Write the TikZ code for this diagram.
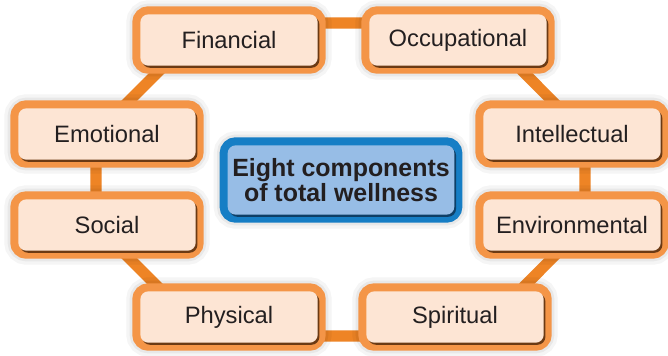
\documentclass[tikz,border=0pt]{standalone}
\usepackage{fontspec}
\setmainfont{Liberation Sans}
\usepackage{tikz}
\usetikzlibrary{calc}
\usetikzlibrary{backgrounds}

\definecolor{frameOrange}{HTML}{F49547}
\definecolor{ringOrange}{HTML}{EE8425}
\definecolor{peach}{HTML}{FDE5D4}
\definecolor{shadowBrown}{HTML}{6B3A14}
\definecolor{frameBlue}{HTML}{167EC5}
\definecolor{paleBlue}{HTML}{97BDE6}
\definecolor{shadowBlue}{HTML}{0E3F66}
\definecolor{ink}{HTML}{231F20}

\tikzset{
  comp/.style = {
    rounded corners = 6pt, inner sep = 0pt,
    minimum width = 133pt, minimum height = 38.5pt,
    font = \fontsize{17.8}{20}\selectfont, text = ink,
    preaction = {draw = black, draw opacity = .04, line width = 21pt},
    preaction = {draw = black, draw opacity = .05, line width = 16pt},
    preaction = {draw = frameOrange, line width = 12pt},
    preaction = {fill = shadowBrown, transform canvas = {shift = {(1.3pt,-1.6pt)}}},
    fill = peach},
  hub/.style = {
    rounded corners = 6pt, inner sep = 0pt,
    minimum width = 170pt, minimum height = 52pt,
    font = \fontsize{18.7}{17.5}\selectfont\bfseries, text = ink, align = center,
    preaction = {draw = black, draw opacity = .04, line width = 21pt},
    preaction = {draw = black, draw opacity = .05, line width = 16pt},
    preaction = {draw = frameBlue, line width = 12pt},
    preaction = {fill = shadowBlue, transform canvas = {shift = {(1.3pt,-1.6pt)}}},
    fill = paleBlue},
  ring/.style = {line width = 8.3pt, ringOrange, line join = round}
}

\begin{document}
\begin{tikzpicture}[x = .75pt, y = -.75pt]
  \useasboundingbox (0,0) rectangle (668,355);

% components
  \node[hub] (center) at (341,180) {Eight components\\of total wellness};
  \node[comp] (fin) at (229,40) {Financial};
  \node[comp] (occ) at (458,40) {Occupational};
  \node[comp] (int) at (572,134) {Intellectual};
  \node[comp] (env) at (572,225) {Environmental};
  \node[comp] (spi) at (455,317) {Spiritual};
  \node[comp] (phy) at (229,317) {Physical};
  \node[comp] (soc) at (107,225) {Social};
  \node[comp] (emo) at (107,134) {Emotional};

% ring
  \node[shape = coordinate] (finC) at ($(fin) + (-22,-17)$) {};
  \node[shape = coordinate] (occC) at ($(occ) + (17,-17)$) {};
  \node[shape = coordinate] (intC) at ($(int) + (13,0)$) {};
  \node[shape = coordinate] (envC) at ($(env) + (13,0)$) {};
  \node[shape = coordinate] (spiC) at ($(spi) + (20,19)$) {};
  \node[shape = coordinate] (phyC) at ($(phy) + (-22,19)$) {};
  \node[shape = coordinate] (socC) at ($(soc) + (-11,0)$) {};
  \node[shape = coordinate] (emoC) at ($(emo) + (-11,0)$) {};
  \begin{scope}[on background layer]
    \fill[white] (0,0) rectangle (668,355);
    \draw[ring] (finC) -- (occC) -- (intC) -- (envC) -- (spiC)
      -- (phyC) -- (socC) -- (emoC) -- cycle;
  \end{scope}

\end{tikzpicture}
\end{document}
